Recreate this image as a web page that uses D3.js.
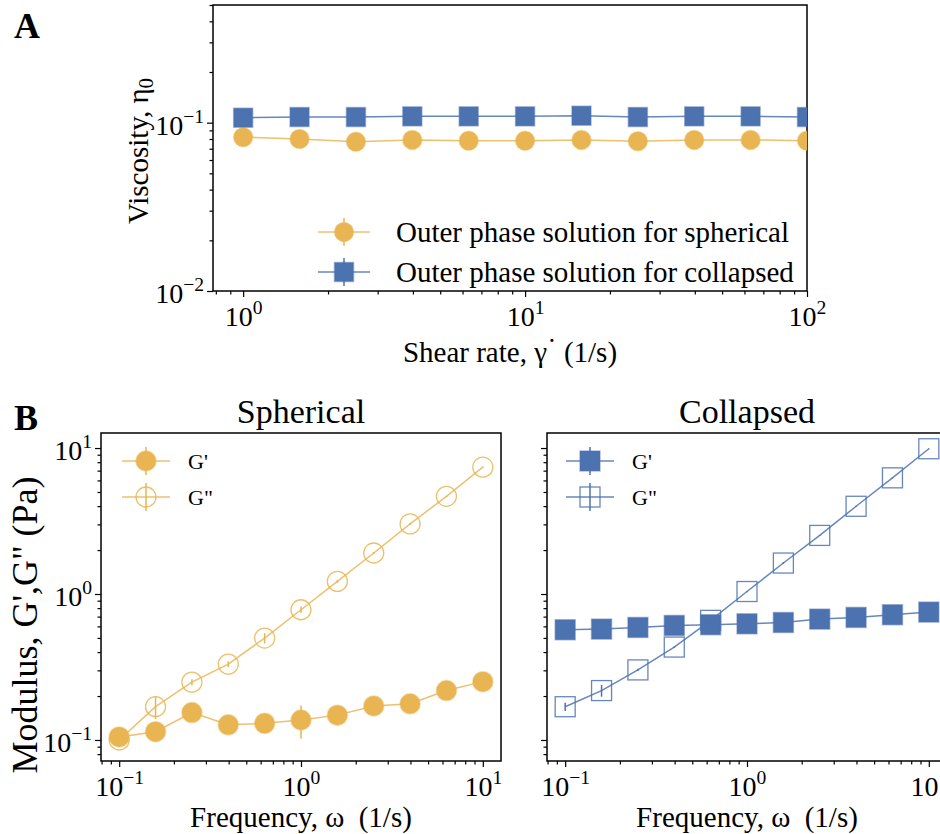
<!DOCTYPE html>
<html>
<head>
<meta charset="utf-8">
<script src="https://cdn.jsdelivr.net/npm/d3@7"></script>
<style>
  body { margin: 0; background: #fff; }
  svg text { font-family: "Liberation Serif", "Times New Roman", serif; fill: #000; }
</style>
</head>
<body>
<svg id="fig" width="940" height="834"></svg>
<script>
// ---- data, panel A (zero-shear viscosity vs shear rate)
var shearRate = [1, 1.585, 2.512, 3.981, 6.31, 10, 15.85, 25.12, 39.81, 63.1, 100];
var etaSpherical = [0.082, 0.080, 0.077, 0.079, 0.078, 0.078, 0.079, 0.0775, 0.079, 0.079, 0.078];
var etaCollapsed = [0.107, 0.108, 0.108, 0.109, 0.109, 0.109, 0.110, 0.108, 0.109, 0.109, 0.108];
var errEtaSpherical = [0.001, 0.001, 0.001, 0.001, 0.001, 0.001, 0.001, 0.001, 0.001, 0.001, 0.001];
var errEtaCollapsed = [0.001, 0.001, 0.001, 0.001, 0.001, 0.001, 0.001, 0.001, 0.001, 0.001, 0.001];

// ---- data, panel B (frequency sweep)
var freq = [0.1, 0.1585, 0.2512, 0.3981, 0.631, 1, 1.585, 2.512, 3.981, 6.31, 10];
var gpSpherical  = [0.105, 0.114, 0.154, 0.127, 0.130, 0.137, 0.148, 0.171, 0.177, 0.218, 0.251];
var gppSpherical = [0.100, 0.169, 0.249, 0.331, 0.499, 0.780, 1.22, 1.91, 3.02, 4.67, 7.39];
var errGpSpherical  = [0.004, 0.005, 0.006, 0.004, 0.005, 0.035, 0.004, 0.005, 0.004, 0.005, 0.005];
var errGppSpherical = [0.003, 0.030, 0.012, 0.015, 0.040, 0.040, 0.03, 0.03, 0.05, 0.05, 0.08];
var gpCollapsed  = [0.569, 0.575, 0.590, 0.609, 0.616, 0.625, 0.638, 0.673, 0.691, 0.721, 0.752];
var gppCollapsed = [0.169, 0.218, 0.302, 0.433, 0.66, 1.04, 1.63, 2.52, 3.99, 6.25, 9.89];
var errGpCollapsed  = [0.01, 0.01, 0.01, 0.01, 0.01, 0.01, 0.01, 0.01, 0.01, 0.01, 0.01];
var errGppCollapsed = [0.011, 0.020, 0.005, 0.005, 0.01, 0.01, 0.02, 0.02, 0.03, 0.05, 0.08];

var xMajorA = [1, 10, 100], yMajorA = [0.01, 0.1];
var xMajorB = [0.1, 1, 10], yMajorB = [0.1, 1, 10];

var orange = "#E9B553", blue = "#4C72B0";
var svg = d3.select("#fig");

function minorTicks(domain) {
    var out = [];
    var lo = Math.floor(Math.log10(domain[0])), hi = Math.ceil(Math.log10(domain[1]));
    for (var e = lo; e <= hi; e++)
        for (var k = 2; k <= 9; k++) {
            var v = k * Math.pow(10, e);
            if (v >= domain[0] && v <= domain[1]) out.push(v);
        }
    return out;
}

// "10" with a raised exponent
function powerLabels(sel, dy) {
    sel.selectAll(".tick text").each(function(d) {
        var t = d3.select(this).text(null).attr("dy", dy);
        var e = String(Math.round(Math.log10(d))).replace("-", "\u2212");
        t.append("tspan").text("10");
        t.append("tspan").attr("font-size", "0.7em").attr("dy", "-0.62em").text(e);
    });
}

function panel(o) {
    var x = d3.scaleLog().domain(o.xDomain).range([o.left, o.right]);
    var y = d3.scaleLog().domain(o.yDomain).range([o.bottom, o.top]);
    var g = svg.append("g");

    svg.append("clipPath").attr("id", o.name)
        .append("rect")
        .attr("x", o.left).attr("y", o.top)
        .attr("width", o.right - o.left).attr("height", o.bottom - o.top);

    g.append("g").attr("transform", "translate(0," + o.bottom + ")")
        .call(d3.axisBottom(x).tickValues(minorTicks(o.xDomain)).tickSize(3.5).tickFormat(""));
    g.append("g").attr("transform", "translate(" + o.left + ",0)")
        .call(d3.axisLeft(y).tickValues(minorTicks(o.yDomain)).tickSize(3.5).tickFormat(""));

    var xa = g.append("g").attr("transform", "translate(0," + o.bottom + ")")
        .call(d3.axisBottom(x).tickValues(o.xMajor).tickSize(6).tickPadding(o.xPad))
        .attr("font-size", o.tickFont);
    powerLabels(xa, "0.71em");

    var ya = g.append("g").attr("transform", "translate(" + o.left + ",0)")
        .call(d3.axisLeft(y).tickValues(o.yMajor).tickSize(6).tickPadding(3))
        .attr("font-size", o.tickFont);
    if (o.yLabels) powerLabels(ya, "0.42em");
    else ya.selectAll(".tick text").remove();

    g.selectAll(".domain").remove();
    g.selectAll(".tick line").attr("stroke", "#000").attr("stroke-width", 1.2);

    g.append("rect")
        .attr("x", o.left).attr("y", o.top)
        .attr("width", o.right - o.left).attr("height", o.bottom - o.top)
        .attr("fill", "none").attr("stroke", "#000").attr("stroke-width", 1.5);

    return { g: g, x: x, y: y, clip: o.name };
}

function marker(sel, shape, size, color, open) {
    var m;
    if (shape === "circle") m = sel.append("circle").attr("r", size / 2);
    else m = sel.append("rect").attr("x", -size / 2).attr("y", -size / 2).attr("width", size).attr("height", size);
    if (open) m.attr("fill", "none").attr("stroke", color).attr("stroke-width", 1.3).attr("stroke-opacity", 0.85);
    else m.attr("fill", color).attr("stroke", color).attr("stroke-opacity", 0.45).attr("stroke-width", 1.5);
    return m;
}

function series(p, xs, ys, errs, st) {
    var layer = p.g.append("g").attr("clip-path", "url(#" + p.clip + ")");
    var pts = xs.map(function(v, i) { return { x: v, y: ys[i], e: errs[i] }; });

    layer.append("path").datum(pts)
        .attr("fill", "none").attr("stroke", st.color).attr("stroke-width", 1.5).attr("stroke-opacity", 0.85)
        .attr("d", d3.line().x(function(d) { return p.x(d.x); }).y(function(d) { return p.y(d.y); }));

    layer.selectAll("line.err").data(pts).enter().append("line")
        .attr("stroke", st.color).attr("stroke-width", 1.5)
        .attr("x1", function(d) { return p.x(d.x); }).attr("x2", function(d) { return p.x(d.x); })
        .attr("y1", function(d) { return p.y(d.y + d.e); }).attr("y2", function(d) { return p.y(d.y - d.e); });

    layer.selectAll("g.pt").data(pts).enter().append("g")
        .attr("transform", function(d) { return "translate(" + p.x(d.x) + "," + p.y(d.y) + ")"; })
        .each(function() { marker(d3.select(this), st.shape, st.size, st.color, st.open); });
}

function legend(items, x0, y0, rowGap, half, textGap, font) {
    var lg = svg.append("g");
    items.forEach(function(it, i) {
        var row = lg.append("g").attr("transform", "translate(" + x0 + "," + (y0 + i * rowGap) + ")");
        row.append("line").attr("x1", -half).attr("x2", half)
            .attr("stroke", it.color).attr("stroke-width", 1.5).attr("stroke-opacity", 0.85);
        row.append("line").attr("y1", -14).attr("y2", 14)
            .attr("stroke", it.color).attr("stroke-width", 1.5);
        marker(row, it.shape, it.size, it.color, it.open);
        row.append("text").attr("x", textGap).attr("dy", "0.35em")
            .attr("font-size", font).text(it.label);
    });
}

// ---------- panel A
var pA = panel({ name: "clipA", left: 213, right: 807, top: 5, bottom: 291,
    xDomain: [Math.pow(10, -0.107), 100], yDomain: [0.01, 0.5],
    xMajor: xMajorA, yMajor: yMajorA, yLabels: true, tickFont: 28, xPad: 9 });

series(pA, shearRate, etaSpherical, errEtaSpherical, { color: orange, shape: "circle", size: 19 });
series(pA, shearRate, etaCollapsed, errEtaCollapsed, { color: blue, shape: "square", size: 19 });

legend([
    { label: "Outer phase solution for spherical", color: orange, shape: "circle", size: 19 },
    { label: "Outer phase solution for collapsed", color: blue, shape: "square", size: 19 }
], 344, 232, 40, 26, 52, 29);

svg.append("text").attr("x", 510).attr("y", 362).attr("text-anchor", "middle").attr("font-size", 29)
    .call(function(t) {
        t.append("tspan").text("Shear rate, \u03b3");
        t.append("tspan").attr("dy", "-0.12em").text("\u02d9");
        t.append("tspan").attr("dy", "0.12em").text(" (1/s)");
    });

svg.append("text").attr("transform", "translate(148,151) rotate(-90)")
    .attr("text-anchor", "middle").attr("font-size", 29)
    .call(function(t) {
        t.append("tspan").text("Viscosity, \u03b7");
        t.append("tspan").attr("font-size", "0.72em").attr("dy", "0.25em").text("0");
    });

svg.append("text").attr("x", 14).attr("y", 38).attr("font-size", 36).attr("font-weight", "bold").text("A");

// ---------- panel B
var yDomB = [Math.pow(10, -1.144), Math.pow(10, 1.103)];
var xDomB = [Math.pow(10, -1.1), Math.pow(10, 1.1)];

var pB1 = panel({ name: "clipB1", left: 101, right: 501, top: 433, bottom: 761,
    xDomain: xDomB, yDomain: yDomB, xMajor: xMajorB, yMajor: yMajorB, yLabels: true, tickFont: 28, xPad: 9 });
var pB2 = panel({ name: "clipB2", left: 547, right: 947, top: 433, bottom: 761,
    xDomain: xDomB, yDomain: yDomB, xMajor: xMajorB, yMajor: yMajorB, yLabels: false, tickFont: 28, xPad: 9 });

series(pB1, freq, gpSpherical, errGpSpherical, { color: orange, shape: "circle", size: 20 });
series(pB1, freq, gppSpherical, errGppSpherical, { color: orange, shape: "circle", size: 20, open: true });
series(pB2, freq, gpCollapsed, errGpCollapsed, { color: blue, shape: "square", size: 20 });
series(pB2, freq, gppCollapsed, errGppCollapsed, { color: blue, shape: "square", size: 20, open: true });

legend([
    { label: "G'", color: orange, shape: "circle", size: 20 },
    { label: "G\"", color: orange, shape: "circle", size: 20, open: true }
], 146, 461, 36, 24, 42, 22);
legend([
    { label: "G'", color: blue, shape: "square", size: 20 },
    { label: "G\"", color: blue, shape: "square", size: 20, open: true }
], 590, 461, 36, 24, 42, 22);

[[301, "Spherical"], [747, "Collapsed"]].forEach(function(t) {
    svg.append("text").attr("x", t[0]).attr("y", 423).attr("text-anchor", "middle")
        .attr("font-size", 34).text(t[1]);
});
[301, 747].forEach(function(cx) {
    svg.append("text").attr("x", cx).attr("y", 827).attr("text-anchor", "middle")
        .attr("font-size", 29).text("Frequency, \u03c9 \u00a0(1/s)");
});

svg.append("text").attr("transform", "translate(37,625) rotate(-90)")
    .attr("text-anchor", "middle").attr("font-size", 36).text("Modulus, G',G\" (Pa)");

svg.append("text").attr("x", 14).attr("y", 430).attr("font-size", 36).attr("font-weight", "bold").text("B");
</script>
</body>
</html>
